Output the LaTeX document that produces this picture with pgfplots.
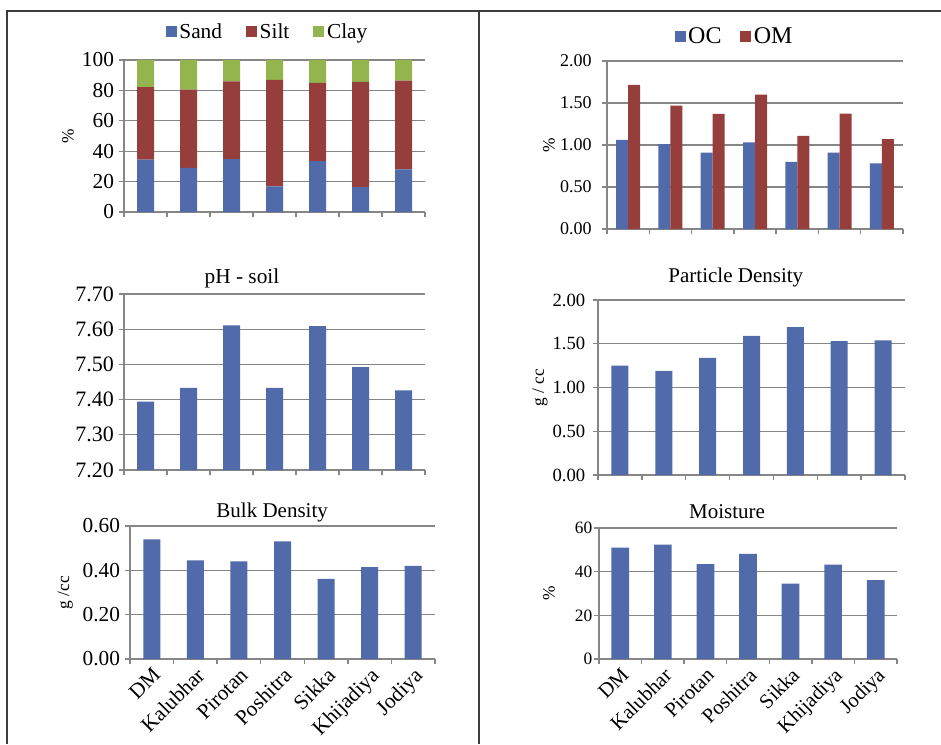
\documentclass[border=0pt]{standalone}
\usepackage{fontspec}
\setmainfont{Liberation Serif}
\usepackage{pgfplots}
\pgfplotsset{compat=1.18}

\definecolor{barblue}{RGB}{80,106,170}
\definecolor{barred}{RGB}{150,62,60}
\definecolor{bargreen}{RGB}{148,180,78}
\definecolor{gridgray}{RGB}{134,134,134}
\definecolor{framegray}{RGB}{60,60,60}

\pgfplotsset{
  soilbase/.style={
    scale only axis,
    anchor=south west,
    axis x line*=bottom, axis y line*=left,
    axis line style={draw=gridgray, line width=1pt},
    xmin=-0.5, xmax=6.5,
    xtick={0,...,6},
    minor xtick={-0.5,0.5,...,6.5},
    major x tick style={draw=none},
    minor x tick style={draw=gridgray, line width=1pt},
    minor tick length=4pt,
    major tick length=4pt,
    tick align=outside,
    major y tick style={draw=gridgray, line width=1pt},
    ymajorgrids,
    grid style={draw=gridgray, line width=1pt},
    /pgf/number format/assume math mode=true,
    xticklabels={},
    every axis y label/.style={rotate=90, anchor=center},
    every axis title/.style={anchor=center},
  },
  sqlegend/.style={
    legend image code/.code={\fill[##1] (0pt,-4pt) rectangle (8.25pt,4.25pt);},
  },
  twodec/.style={
    yticklabel style={/pgf/number format/fixed, /pgf/number format/fixed zerofill, /pgf/number format/precision=2},
  },
  sitenames/.style={
    xticklabels={DM,Kalubhar,Pirotan,Poshitra,Sikka,Khijadiya,Jodiya},
    xticklabel style={rotate=45, anchor=north east, inner sep=1pt},
  },
}

\begin{document}
\begin{tikzpicture}
\useasboundingbox (0pt,0pt) rectangle (705.75pt,558pt);

% table frame
\draw[framegray, line width=1.2pt] (5.25pt,0pt) -- (5.25pt,549.75pt) -- (705.75pt,549.75pt);
\draw[framegray, line width=1.5pt] (359.25pt,0pt) -- (359.25pt,549.75pt);

% soil texture (stacked)
\begin{axis}[soilbase, ybar stacked, bar width=12.75pt, sqlegend,
  at={(93pt,399pt)}, width=225.75pt, height=114pt,
  ymin=0, ymax=100, ytick={0,20,...,100},
  yticklabel style={font=\fontsize{16}{18}\selectfont},
  ylabel={\%}, ylabel style={at={(axis description cs:-0.186,0.5)}, font=\fontsize{13}{15}\selectfont},
  legend style={at={(axis description cs:0.478,1.184)}, anchor=center, draw=none,
    legend columns=-1, font=\fontsize{16}{18}\selectfont,
    /tikz/every even column/.append style={column sep=16pt}},
]
\addplot[fill=barblue, draw=none] coordinates {(0,34.4) (1,29.1) (2,34.8) (3,16.8) (4,33.5) (5,16.4) (6,28.0)};
\addplot[fill=barred, draw=none] coordinates {(0,47.7) (1,51.4) (2,51.2) (3,70.1) (4,51.4) (5,69.2) (6,58.4)};
\addplot[fill=bargreen, draw=none] coordinates {(0,17.9) (1,19.5) (2,14.0) (3,13.1) (4,15.1) (5,14.4) (6,13.6)};
\legend{Sand,Silt,Clay}
\end{axis}

% organic carbon and organic matter
\begin{axis}[soilbase, twodec, ybar=0pt, bar width=9pt, sqlegend,
  at={(455.25pt,386.25pt)}, width=222pt, height=126pt,
  ymin=0, ymax=2, ytick={0,0.5,1,1.5,2},
  yticklabel style={font=\fontsize{13.5}{16}\selectfont, xshift=-4pt},
  ylabel={\%}, ylabel style={at={(axis description cs:-0.196,0.5)}, font=\fontsize{13}{15}\selectfont},
  legend style={at={(axis description cs:0.432,1.143)}, anchor=center, draw=none,
    legend columns=-1, font=\fontsize{18}{20}\selectfont,
    /tikz/every even column/.append style={column sep=12pt}},
]
\addplot[fill=barblue, draw=none] coordinates {(0,1.06) (1,1.01) (2,0.91) (3,1.03) (4,0.80) (5,0.91) (6,0.78)};
\addplot[fill=barred, draw=none] coordinates {(0,1.715) (1,1.47) (2,1.37) (3,1.60) (4,1.11) (5,1.375) (6,1.07)};
\legend{OC,OM}
\end{axis}

% pH
\begin{axis}[soilbase, twodec, ybar, bar width=12.75pt,
  at={(93pt,205.5pt)}, width=225.75pt, height=132pt,
  ymin=7.2, ymax=7.7, ytick={7.2,7.3,7.4,7.5,7.6,7.7},
  yticklabel style={font=\fontsize{16.5}{18}\selectfont},
  title={pH - soil}, title style={at={(axis description cs:0.392,1.091)}, font=\fontsize{16}{18}\selectfont},
]
\addplot[fill=barblue, draw=none] coordinates {(0,7.394) (1,7.433) (2,7.611) (3,7.433) (4,7.609) (5,7.492) (6,7.426)};
\end{axis}

% particle density
\begin{axis}[soilbase, twodec, ybar, bar width=12.75pt,
  at={(448.5pt,201.75pt)}, width=230.25pt, height=131.25pt,
  ymin=0, ymax=2, ytick={0,0.5,1,1.5,2},
  yticklabel style={font=\fontsize{14}{16}\selectfont, xshift=-2pt},
  ylabel={g / cc}, ylabel style={at={(axis description cs:-0.189,0.5)}, font=\fontsize{13}{15}\selectfont},
  title={Particle Density}, title style={at={(axis description cs:0.449,1.126)}, font=\fontsize{15.75}{18}\selectfont},
]
\addplot[fill=barblue, draw=none] coordinates {(0,1.25) (1,1.19) (2,1.34) (3,1.59) (4,1.69) (5,1.53) (6,1.54)};
\end{axis}

% bulk density
\begin{axis}[soilbase, twodec, sitenames, ybar, bar width=12.75pt,
  at={(97.5pt,63.75pt)}, width=228.75pt, height=99.75pt,
  ymin=0, ymax=0.6, ytick={0,0.2,0.4,0.6},
  yticklabel style={font=\fontsize{16}{18}\selectfont},
  xticklabel style={font=\fontsize{16}{18}\selectfont},
  ylabel={g /cc}, ylabel style={at={(axis description cs:-0.212,0.5)}, font=\fontsize{13}{15}\selectfont},
  title={Bulk Density}, title style={at={(axis description cs:0.466,1.105)}, font=\fontsize{15.75}{18}\selectfont},
]
\addplot[fill=barblue, draw=none] coordinates {(0,0.54) (1,0.445) (2,0.44) (3,0.531) (4,0.3615) (5,0.414) (6,0.42)};
\end{axis}

% moisture
\begin{axis}[soilbase, sitenames, ybar, bar width=13.25pt,
  at={(449.25pt,63.75pt)}, width=223.5pt, height=98.25pt,
  ymin=0, ymax=60, ytick={0,20,40,60},
  yticklabel style={font=\fontsize{13}{15}\selectfont, xshift=2.5pt},
  xticklabel style={font=\fontsize{15.5}{17}\selectfont},
  ylabel={\%}, ylabel style={at={(axis description cs:-0.168,0.5)}, font=\fontsize{13}{15}\selectfont},
  title={Moisture}, title style={at={(axis description cs:0.43,1.122)}, font=\fontsize{15.75}{18}\selectfont},
]
\addplot[fill=barblue, draw=none] coordinates {(0,51.0) (1,52.4) (2,43.5) (3,48.1) (4,34.5) (5,43.2) (6,36.1)};
\end{axis}
\end{tikzpicture}
\end{document}
